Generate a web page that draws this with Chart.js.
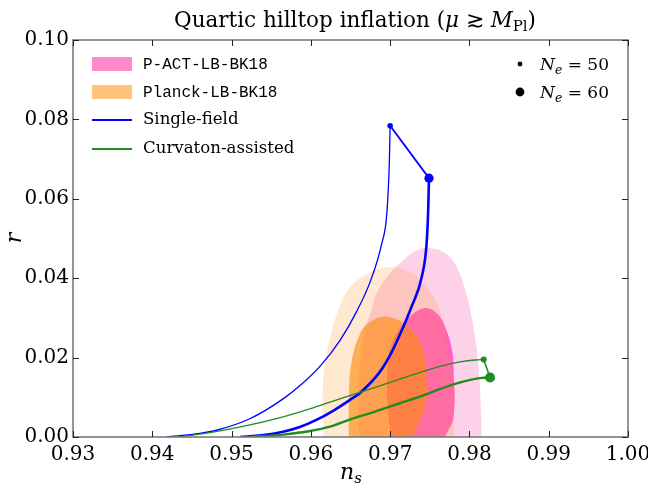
<!DOCTYPE html>
<html><head><meta charset="utf-8">
<script src="https://cdn.jsdelivr.net/npm/chart.js@4"></script>
<style>html,body{margin:0;padding:0;background:#fff}canvas{display:block}</style>
</head><body>
<canvas id="c" width="648" height="487"></canvas>
<script>
// ---- data (ns, r) ----
const xTicks = [0.93, 0.94, 0.95, 0.96, 0.97, 0.98, 0.99, 1.00];
const yTicks = [0.00, 0.02, 0.04, 0.06, 0.08, 0.10];

const pactOuter = [[0.9661,0],[0.9660,0.0101],[0.9662,0.0185],[0.9668,0.0269],[0.9675,0.0311],[0.9683,0.0361],[0.9696,0.0403],[0.9712,0.0437],[0.9733,0.0470],[0.9752,0.0475],[0.9770,0.0462],[0.9784,0.0428],[0.9796,0.0361],[0.9805,0.0277],[0.9811,0.0185],[0.9815,0.0051],[0.9815,0]];
const pactInner = [[0.9702,0],[0.9698,0.0051],[0.9696,0.0143],[0.9702,0.0236],[0.9721,0.0294],[0.9742,0.0324],[0.9759,0.0311],[0.9771,0.0269],[0.9778,0.0219],[0.9780,0.0169],[0.9780,0.0051],[0.9769,0]];
const planckOuter = [[0.9616,0],[0.9615,0.0118],[0.9620,0.0210],[0.9633,0.0311],[0.9650,0.0378],[0.9675,0.0415],[0.9700,0.0428],[0.9720,0.0420],[0.9738,0.0395],[0.9759,0.0336],[0.9771,0.0244],[0.9779,0.0135],[0.9780,0]];
const planckInner = [[0.9648,0],[0.9648,0.0101],[0.9651,0.0185],[0.9662,0.0260],[0.9675,0.0290],[0.9696,0.0303],[0.9723,0.0278],[0.9740,0.0227],[0.9746,0.0143],[0.9744,0.0076],[0.9731,0.0010],[0.9728,0]];

const singleN50 = [[0.9418,0],[0.9460,0.0009],[0.9481,0.0017],[0.9523,0.0046],[0.9565,0.0096],[0.9590,0.0136],[0.9612,0.0179],[0.9637,0.0244],[0.9658,0.0317],[0.9675,0.0392],[0.9689,0.0484],[0.9696,0.0567],[0.9699,0.0694],[0.9700,0.0784]];
const singleN60 = [[0.9511,0],[0.9538,0.0004],[0.9565,0.0013],[0.9586,0.0025],[0.9607,0.0043],[0.9628,0.0066],[0.9649,0.0093],[0.9662,0.0111],[0.9687,0.0164],[0.9702,0.0214],[0.9715,0.0270],[0.9727,0.0328],[0.9740,0.0404],[0.9746,0.0488],[0.9748,0.0572],[0.9749,0.0652]];
const curvN50 = [[0.9435,0],[0.9473,0.0011],[0.9513,0.0026],[0.9565,0.0051],[0.9608,0.0077],[0.9649,0.0104],[0.9681,0.0125],[0.9712,0.0146],[0.9738,0.0163],[0.9763,0.0178],[0.9788,0.0189],[0.9807,0.0194],[0.9818,0.0195]];
const curvN60 = [[0.9523,0],[0.9565,0.0006],[0.9599,0.0015],[0.9624,0.0026],[0.9649,0.0044],[0.9681,0.0064],[0.9712,0.0085],[0.9738,0.0102],[0.9763,0.0121],[0.9782,0.0134],[0.9801,0.0144],[0.9816,0.0149],[0.9826,0.0150]];
const singleEnds = [[0.9700,0.0784],[0.9749,0.0652]];
const curvEnds = [[0.9818,0.0195],[0.9826,0.0150]];

const legendLabels = ['P-ACT-LB-BK18','Planck-LB-BK18','Single-field','Curvaton-assisted'];
const neLabels = ['50','60'];

const P = a => a.map(p => ({x:p[0], y:p[1]}));
const SERIF = '"DejaVu Serif", serif';
const BLUE = '#0000ff', GREEN = '#228b22';

function area(data, color, order){
  return {data:P(data), showLine:true, fill:'shape', backgroundColor:color, borderWidth:0, borderColor:'rgba(0,0,0,0)', pointRadius:0, tension:0.4, order};
}
function curve(data, color, w, order){
  return {data:P(data), showLine:true, fill:false, borderColor:color, borderWidth:w, pointRadius:0, cubicInterpolationMode:'monotone', order};
}
function dot(p, color, r, order){
  return {data:P([p]), showLine:false, backgroundColor:color, borderWidth:0, pointRadius:r, pointHoverRadius:r, order};
}

const datasets = [
  area(pactOuter, '#fdd2e9', 20),
  area(pactInner, '#ff60c4', 19),
  area(planckOuter, 'rgba(255,150,40,0.22)', 18),
  area(planckInner, 'rgba(255,140,20,0.65)', 17),
  curve(singleN50, BLUE, 1.3, 10),
  curve(singleN60, BLUE, 2.6, 9),
  curve(curvN50, GREEN, 1.3, 8),
  curve(curvN60, GREEN, 2.4, 7),
  {data:P(singleEnds), showLine:true, fill:false, borderColor:BLUE, borderWidth:1.8, pointRadius:0, tension:0, order:6},
  {data:P(curvEnds), showLine:true, fill:false, borderColor:GREEN, borderWidth:1.6, pointRadius:0, tension:0, order:6},
  dot(singleEnds[0], BLUE, 2.8, 2), dot(singleEnds[1], BLUE, 4.6, 1),
  dot(curvEnds[0], GREEN, 3.0, 2), dot(curvEnds[1], GREEN, 5.0, 1)
];

function runs(ctx, items, cx, baseY){
  let w = 0;
  items.forEach(it => { ctx.font = it.f; w += ctx.measureText(it.t).width; });
  let x = cx - w/2;
  items.forEach(it => { ctx.font = it.f; ctx.fillText(it.t, x, baseY + (it.dy||0)); x += ctx.measureText(it.t).width; });
}
function runsLeft(ctx, items, x, baseY){
  items.forEach(it => { ctx.font = it.f; ctx.fillText(it.t, x, baseY + (it.dy||0)); x += ctx.measureText(it.t).width; });
}

const deco = {
  id:'deco',
  afterDraw(chart){
    const {ctx, chartArea:a, scales:{x, y}} = chart;
    ctx.save();
    ctx.strokeStyle = '#7a7a7a'; ctx.lineWidth = 1.6;
    ctx.strokeRect(a.left, a.top, a.right - a.left, a.bottom - a.top);
    ctx.strokeStyle = '#222'; ctx.lineWidth = 1;
    const L = 6;
    xTicks.forEach(v => {
      const px = Math.round(x.getPixelForValue(v)) + 0.5;
      ctx.beginPath(); ctx.moveTo(px, a.bottom); ctx.lineTo(px, a.bottom - L);
      ctx.moveTo(px, a.top); ctx.lineTo(px, a.top + L); ctx.stroke();
    });
    yTicks.forEach(v => {
      const py = Math.round(y.getPixelForValue(v)) + 0.5;
      ctx.beginPath(); ctx.moveTo(a.left, py); ctx.lineTo(a.left + L, py);
      ctx.moveTo(a.right, py); ctx.lineTo(a.right - L, py); ctx.stroke();
    });
    ctx.fillStyle = '#000'; ctx.textBaseline = 'alphabetic'; ctx.textAlign = 'left';
    runs(ctx, [
      {t:'Quartic hilltop inflation (', f:'21.5px '+SERIF},
      {t:'\u03bc', f:'italic 21.5px '+SERIF},
      {t:' \u2273 ', f:'21.5px '+SERIF},
      {t:'M', f:'italic 21.5px '+SERIF},
      {t:'Pl', f:'15px '+SERIF, dy:4},
      {t:')', f:'21.5px '+SERIF}
    ], 355, 27);
    runs(ctx, [{t:'n', f:'italic 22px '+SERIF},{t:'s', f:'italic 15px '+SERIF, dy:4}], 351, 479);
    ctx.save(); ctx.translate(21, 238); ctx.rotate(-Math.PI/2);
    runs(ctx, [{t:'r', f:'italic 22px '+SERIF}], 0, 0);
    ctx.restore();
    const lx = 92, lw = 40, tx = 143, rows = [64, 92, 120, 149];
    ctx.fillStyle = '#ff88c8'; ctx.fillRect(lx, rows[0]-7, lw, 14);
    ctx.fillStyle = '#ffc27a'; ctx.fillRect(lx, rows[1]-7, lw, 14);
    ctx.strokeStyle = BLUE; ctx.lineWidth = 1.8;
    ctx.beginPath(); ctx.moveTo(lx, rows[2]); ctx.lineTo(lx+lw, rows[2]); ctx.stroke();
    ctx.strokeStyle = GREEN;
    ctx.beginPath(); ctx.moveTo(lx, rows[3]); ctx.lineTo(lx+lw, rows[3]); ctx.stroke();
    ctx.fillStyle = '#000'; ctx.textBaseline = 'middle';
    ctx.font = '16px "Liberation Mono", monospace';
    ctx.fillText(legendLabels[0], tx, rows[0]+1);
    ctx.fillText(legendLabels[1], tx, rows[1]+1);
    ctx.font = '16.6px '+SERIF;
    ctx.fillText(legendLabels[2], tx, rows[2]);
    ctx.fillText(legendLabels[3], tx, rows[3]);
    ctx.beginPath(); ctx.arc(520, 64, 2.4, 0, Math.PI*2); ctx.fill();
    ctx.beginPath(); ctx.arc(520, 92, 4.4, 0, Math.PI*2); ctx.fill();
    ctx.textBaseline = 'alphabetic';
    [0,1].forEach(i => {
      runsLeft(ctx, [
        {t:'N', f:'italic 17px '+SERIF},
        {t:'e', f:'italic 12.5px '+SERIF, dy:4},
        {t:' = '+neLabels[i], f:'17px '+SERIF}
      ], 540, rows[i]+6);
    });
    ctx.restore();
  }
};

new Chart(document.getElementById('c'), {
  type:'scatter',
  data:{datasets},
  options:{
    responsive:false, animation:false, devicePixelRatio:1,
    layout:{padding:{left:0, right:20, top:40, bottom:0}},
    plugins:{legend:{display:false}, title:{display:false}, tooltip:{enabled:false}},
    scales:{
      x:{type:'linear', min:0.93, max:1.00,
        afterBuildTicks:s => { s.ticks = xTicks.map(v => ({value:v})); },
        afterFit:s => { s.height = 50; s.paddingLeft = 0; s.paddingRight = 0; },
        grid:{display:false, drawTicks:false}, border:{display:false},
        ticks:{callback:v => v.toFixed(2), color:'#000', padding:6, maxRotation:0, autoSkip:false, font:{family:SERIF, size:20}}},
      y:{type:'linear', min:0, max:0.10,
        afterBuildTicks:s => { s.ticks = yTicks.map(v => ({value:v})); },
        afterFit:s => { s.width = 73; s.paddingTop = 0; s.paddingBottom = 0; },
        grid:{display:false, drawTicks:false}, border:{display:false},
        ticks:{callback:v => v.toFixed(2), color:'#000', padding:4, autoSkip:false, font:{family:SERIF, size:20}}}
    }
  },
  plugins:[deco]
});
</script>
</body></html>
